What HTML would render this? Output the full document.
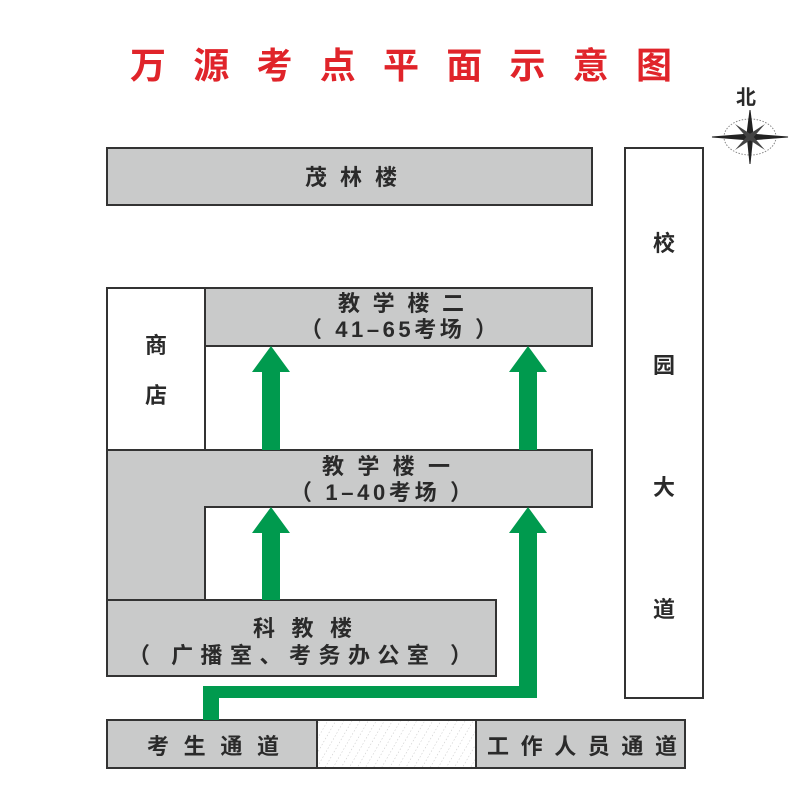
<!DOCTYPE html>
<html><head><meta charset="utf-8"><style>
html,body{margin:0;padding:0;background:#fff;}
svg{display:block}
text{font-family:"Liberation Sans","Noto Sans CJK SC","WenQuanYi Zen Hei",sans-serif;font-weight:bold;fill:#2a2a2a;}
</style></head><body>
<svg width="800" height="800" viewBox="0 0 800 800">
<defs>
<pattern id="h" width="7" height="7" patternUnits="userSpaceOnUse" patternTransform="rotate(30)">
<line x1="0" y1="0" x2="0" y2="7" stroke="#aaa" stroke-width="0.7" stroke-dasharray="1.5,2"/>
</pattern>
</defs>
<rect width="800" height="800" fill="#fff"/>
<text x="130" y="78" font-size="36" textLength="542" lengthAdjust="spacing" style="fill:#e0242a">万源考点平面示意图</text>

<text x="736" y="104" font-size="20">北</text>
<g stroke="#222" fill="#222">
<ellipse cx="750" cy="137" rx="26" ry="18" fill="none" stroke="#888" stroke-dasharray="1.5,1.5"/>
<polygon points="750,110 753,134 750,164 747,134"/>
<polygon points="712,137 750,134 788,137 750,140"/>
<polygon points="735,124 752,135 765,150 748,139" fill="#444" stroke="none"/>
<polygon points="765,124 752,139 735,150 748,135" fill="#444" stroke="none"/>
</g>

<g stroke="#333" stroke-width="2">
<rect x="107" y="148" width="485" height="57" fill="#c9caca"/>
<rect x="107" y="288" width="98" height="162" fill="#fff"/>
<rect x="205" y="288" width="387" height="58" fill="#c9caca"/>
<path d="M107 450 H592 V507 H205 V600 H107 Z" fill="#c9caca"/>
<rect x="107" y="600" width="389" height="76" fill="#c9caca"/>
<rect x="625" y="148" width="78" height="550" fill="#fff"/>
<rect x="107" y="720" width="578" height="48" fill="#c9caca"/>
<rect x="317" y="720" width="159" height="48" fill="#fff"/>
<rect x="317" y="720" width="159" height="48" fill="url(#h)"/>
</g>

<g fill="#009a4e">
<rect x="262" y="370" width="18" height="80"/>
<polygon points="252,372 271,346 290,372"/>
<rect x="519" y="370" width="18" height="80"/>
<polygon points="509,372 528,346 547,372"/>
<rect x="262" y="530" width="18" height="70"/>
<polygon points="252,533 271,507 290,533"/>
<polygon points="203,720 219,720 219,698 537,698 537,530 519,530 519,686 203,686"/>
<polygon points="509,533 528,507 547,533"/>
</g>

<g font-size="22">
<text x="305" y="185" textLength="92" lengthAdjust="spacing">茂林楼</text>
<text x="338" y="311" textLength="126" lengthAdjust="spacing">教学楼二</text>
<text x="300" y="337" textLength="197" lengthAdjust="spacing">（ 41–65考场 ）</text>
<text x="145" y="353">商</text>
<text x="145" y="403">店</text>
<text x="322" y="474" textLength="128" lengthAdjust="spacing">教学楼一</text>
<text x="290" y="500" textLength="182" lengthAdjust="spacing">（ 1–40考场 ）</text>
<text x="253" y="636" textLength="99" lengthAdjust="spacing">科教楼</text>
<text x="128" y="663" textLength="344" lengthAdjust="spacing">（ 广播室、考务办公室 ）</text>
<text x="653" y="251">校</text>
<text x="653" y="373">园</text>
<text x="653" y="495">大</text>
<text x="653" y="617">道</text>
<text x="147" y="754" textLength="132" lengthAdjust="spacing">考生通道</text>
<text x="487" y="754" textLength="190" lengthAdjust="spacing">工作人员通道</text>
</g>
</svg>
</body></html>
